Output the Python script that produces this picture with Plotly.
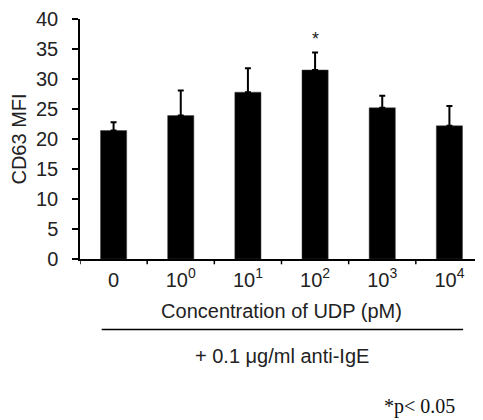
import plotly.graph_objects as go

categories = ["0", "10<sup>0</sup>", "10<sup>1</sup>", "10<sup>2</sup>", "10<sup>3</sup>", "10<sup>4</sup>"]
values = [21.4, 23.9, 27.8, 31.5, 25.2, 22.2]
err_plus = [1.4, 4.2, 4.0, 2.9, 2.0, 3.3]
y_ticks = [0, 5, 10, 15, 20, 25, 30, 35, 40]
sig_index = 3
sig_y = 36.6

xpos = list(range(len(categories)))
FONT = "Arial"

fig = go.Figure()
fig.add_trace(go.Bar(
    x=xpos, y=values, width=0.39,
    marker=dict(color="black", line=dict(color="#444", width=0.5)),
    error_y=dict(type="data", symmetric=False, array=err_plus,
                 arrayminus=[0] * len(values), color="black",
                 thickness=2, width=3),
))

fig.add_annotation(x=sig_index, y=sig_y, text="*", showarrow=False,
                   xanchor="center", yanchor="middle",
                   font=dict(size=18, color="#222", family=FONT))
fig.add_shape(type="line", xref="x", yref="paper", x0=-0.177, x1=5.204,
              y0=-0.294, y1=-0.294, line=dict(color="black", width=1.5))
fig.add_annotation(xref="x", yref="paper", x=2.5, y=-0.405,
                   xanchor="center", yanchor="middle",
                   text="+ 0.1 μg/ml anti-IgE", showarrow=False,
                   font=dict(size=20, color="#222", family=FONT))
fig.add_annotation(xref="x", yref="paper", x=4.56, y=-0.613,
                   xanchor="center", yanchor="middle",
                   text="*p< 0.05", showarrow=False,
                   font=dict(size=20, color="#111", family="Times New Roman"))

fig.update_layout(
    width=475, height=412,
    margin=dict(l=72, r=0, t=11, b=161),
    plot_bgcolor="white", paper_bgcolor="white",
    showlegend=False,
    font=dict(family=FONT, size=20, color="#222"),
    xaxis=dict(
        range=[-0.5, 5.5], tickmode="array", tickvals=xpos, ticktext=categories,
        showline=True, linecolor="black", linewidth=1.5,
        ticks="", showgrid=False, zeroline=False, automargin=False,
        title=dict(text="Concentration of UDP (pM)", standoff=14,
                   font=dict(size=20, family=FONT)),
        tickfont=dict(size=20, family=FONT),
        ticklabelstandoff=2,
    ),
    yaxis=dict(
        range=[0, 40], tickmode="array", tickvals=y_ticks,
        showline=True, linecolor="black", linewidth=1.5,
        ticks="outside", ticklen=6, tickwidth=1.5, tickcolor="black",
        showgrid=False, zeroline=False, automargin=False,
        title=dict(text="CD63 MFI", font=dict(size=20, family=FONT)),
        tickfont=dict(size=20, family=FONT),
        ticklabelstandoff=10,
    ),
)

for b in [-0.5, 0.5, 1.5, 2.5, 3.5, 4.5]:
    fig.add_shape(type="line", xref="x", yref="paper", x0=b, x1=b,
                  y0=0, y1=-0.022, line=dict(color="black", width=1.5))

fig.write_html("out.html")
